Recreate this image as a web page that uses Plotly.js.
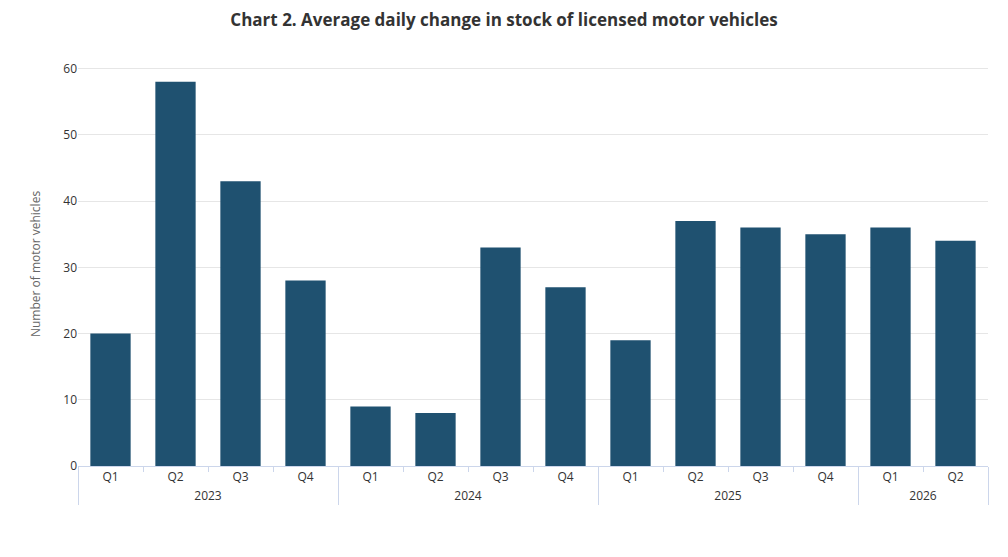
<!DOCTYPE html>
<html><head><meta charset="utf-8">
<script src="https://cdn.plot.ly/plotly-3.0.1.min.js"></script>
<style>body{margin:0;background:#fff}</style>
</head><body>
<div id="chart" style="width:1008px;height:557px"></div>
<script>
var years = ["2023","2023","2023","2023","2024","2024","2024","2024","2025","2025","2025","2025","2026","2026"];
var quarters = ["Q1","Q2","Q3","Q4","Q1","Q2","Q3","Q4","Q1","Q2","Q3","Q4","Q1","Q2"];
var values = [20,58,43,28,9,8,33,27,19,37,36,35,36,34];

var trace = {
    x: [years, quarters],
    y: values,
    type: 'bar',
    marker: {color: '#1f5170'},
    width: 0.62,
    hoverinfo: 'y'
};
var layout = {
    title: {text: '<b>Chart 2. Average daily change in stock of licensed motor vehicles</b>', x: 0.5, y: 0.975,
        font: {family: 'Open Sans, sans-serif', size: 17, color: '#333'}},
    font: {family: 'Open Sans, sans-serif', size: 12, color: '#333'},
    margin: {l: 78, r: 20, t: 62, b: 91},
    paper_bgcolor: '#fff', plot_bgcolor: '#fff',
    bargap: 0.38,
    yaxis: {range: [0, 61], dtick: 10, gridcolor: '#e6e6e6', zeroline: false,
        title: {text: 'Number of motor vehicles', font: {size: 12, color: '#666'}, standoff: 20},
        tickfont: {size: 12, color: '#333'}},
    xaxis: {type: 'multicategory', showline: true, linecolor: '#ccd6eb', ticks: 'outside',
        tickcolor: '#ccd6eb', showdividers: true, dividercolor: '#ccd6eb', dividerwidth: 1,
        tickfont: {size: 12, color: '#333'}},
    showlegend: false
};
Plotly.newPlot('chart', [trace], layout, {displayModeBar: false});
</script>
</body></html>
